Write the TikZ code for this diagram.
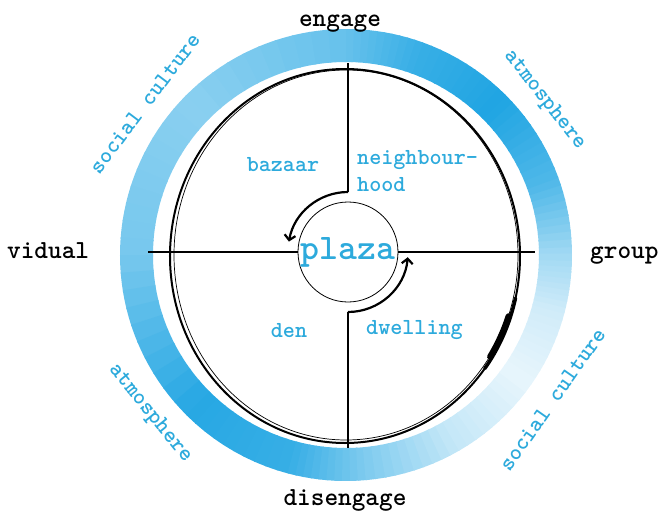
\documentclass[tikz,border=0pt]{standalone}
\usetikzlibrary{arrows.meta}
\definecolor{ringblue}{RGB}{20,160,225}
\definecolor{labelblue}{RGB}{45,170,220}
\tikzset{
 crossline/.style={line width=1.4pt},
 turnarrow/.style={-{Straight Barb[length=5pt,width=11pt]},line width=2.2pt},
 polelabel/.style={font=\ttfamily\bfseries\fontsize{26}{30}\selectfont,inner sep=0pt},
 zonelabel/.style={text=labelblue,font=\ttfamily\bfseries\fontsize{23}{27}\selectfont,inner sep=0pt},
 ringlabel/.style={text=labelblue,font=\ttfamily\bfseries\fontsize{23}{26}\selectfont}
}
\begin{document}
\begin{tikzpicture}[x=1pt,y=1pt]
\useasboundingbox (-346,-257) rectangle (321,255);
% blue ring, shaded piece by piece
\foreach \a/\b/\pa/\pb in {0/20/40/75,20/45/75/95,45/70/95/85,70/90/85/65,90/135/65/50,
  135/180/50/58,180/225/58/92,225/255/92/85,255/275/85/55,275/300/55/25,
  300/325/25/10,325/345/10/20,345/360/20/40}{
  \foreach \k in {0,...,9}{
    \pgfmathsetmacro\s{\a+(\b-\a)*\k/10}
    \pgfmathsetmacro\e{\a+(\b-\a)*(\k+1)/10+0.4}
    \pgfmathsetmacro\p{\pa+(\pb-\pa)*(\k+0.5)/10}
    \fill[ringblue!\p!white] (\s:193) arc[start angle=\s,end angle=\e,radius=193]
      -- (\e:226) arc[start angle=\e,end angle=\s,radius=226] -- cycle;
  }
}
% hand drawn circle
\coordinate (hub) at (-1,-1);
\draw[line width=2pt] (hub) ellipse[x radius=175,y radius=187];
\draw[line width=0.7pt] (0,0) ellipse[x radius=172,y radius=185];
\draw[line width=3.5pt,line cap=round] (hub) ++(-37:175 and 187)
  arc[start angle=-37,end angle=-13,x radius=175,y radius=187];
\draw[line width=6pt,line cap=round] (hub) ++(-33:173 and 185)
  arc[start angle=-33,end angle=-19,x radius=173,y radius=185];
% centre and cross
\node[draw,circle,line width=0.8pt,minimum size=100pt,inner sep=0pt,
  text=labelblue,font=\ttfamily\bfseries\fontsize{36}{40}\selectfont] (plaza) at (2,3) {plaza};
\coordinate (west) at (-198,3);
\coordinate (east) at (189,3);
\coordinate (north) at (2,192);
\coordinate (south) at (2,-193);
\coordinate (upstart) at (2,63);
\coordinate (downstart) at (2,-57);
\draw[crossline] (west) -- (plaza.west);
\draw[crossline] (plaza.east) -- (east);
\draw[crossline] (north) -- (upstart);
\draw[crossline] (downstart) -- (south);
\draw[turnarrow] (upstart) arc[start angle=90,end angle=170,radius=60];
\draw[turnarrow] (downstart) arc[start angle=-90,end angle=-5,radius=60];
% quadrants
\node[zonelabel] (bazaar) at (-63,90) {bazaar};
\node[zonelabel,anchor=north west,align=left] (hood) at (11,105) {neighbour-\\hood};
\node[zonelabel] (den) at (-57,-76) {den};
\node[zonelabel,anchor=west] (dwelling) at (20,-75) {dwelling};
% poles
\node[polelabel,anchor=base] (engage) at (-6,228) {engage};
\node[polelabel,anchor=base] (disengage) at (-1,-250) {disengage};
\node[polelabel,anchor=base west] (vidual) at (-339,-3) {vidual};
\node[polelabel,anchor=base west] (group) at (244,-3) {group};
% ring labels
\foreach \ang/\txt in {143/social culture,38/atmosphere}
  \node[ringlabel,rotate=\ang-90] at (\ang:252) {\txt};
\foreach \ang/\txt in {219/atmosphere,-35/social culture}
  \node[ringlabel,rotate=\ang+90] at (\ang:252) {\txt};
\end{tikzpicture}
\end{document}
